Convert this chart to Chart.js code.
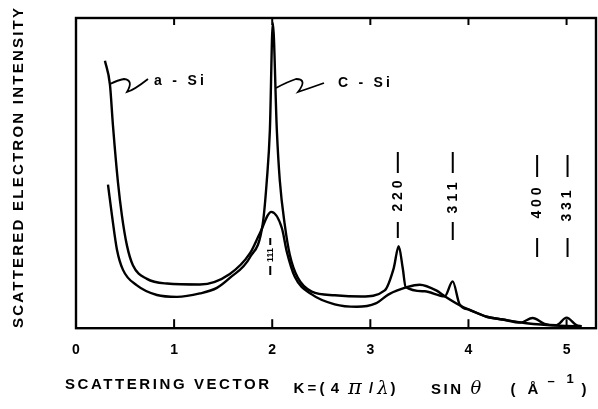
<!DOCTYPE html>
<html lang="en">
<head>
<meta charset="UTF-8">
<title>Scattered electron intensity</title>
<script src="https://cdn.jsdelivr.net/npm/chart.js"></script>
<style>
  html, body { margin: 0; padding: 0; background: #fff; }
</style>
</head>
<body>
<canvas id="chart" width="598" height="409"></canvas>
<script>
// values: K in 1/Angstrom, intensity in arbitrary units (0-100)
const aSiK = [0.295, 0.346, 0.377, 0.428, 0.468, 0.519, 0.58, 0.723, 0.927, 1.263, 1.568, 1.772, 1.874, 1.99, 2.098,
              2.149, 2.23, 2.403, 2.637, 2.861, 3.055, 3.187, 3.381, 3.503, 3.676, 3.758, 3.91, 4.012, 4.185, 4.348,
              4.593, 4.929, 5.153];
const aSiI = [86.2, 78.5, 65.2, 46.9, 36.3, 26.7, 20.3, 15.9, 14.4, 14.1, 17.5, 24.1, 30.6, 37.5, 32.3,
              24.6, 16.6, 10.9, 7.7, 6.9, 8.0, 10.9, 13.3, 14.0, 12.1, 10.3, 7.4, 5.9, 3.7, 2.8,
              1.6, 0.8, 0.6];
const cSiK = [0.326, 0.367, 0.417, 0.479, 0.621, 0.825, 1.029, 1.263, 1.436, 1.568, 1.772, 1.904, 1.945, 1.976, 2.006,
              2.047, 2.077, 2.128, 2.179, 2.26, 2.403, 2.637, 2.912, 3.147, 3.238, 3.289, 3.33, 3.36, 3.554, 3.758,
              3.839, 3.91, 4.012, 4.185, 4.348, 4.53, 4.654, 4.776, 4.898, 5.0, 5.10, 5.153];
const cSiI = [46.3, 36.3, 25.4, 18.8, 13.8, 10.7, 10.1, 11.2, 13.0, 16.2, 22.8, 33.8, 47.7, 63.8, 98.4,
              63.8, 47.7, 33.3, 23.7, 16.3, 11.8, 10.6, 10.2, 12.2, 19.3, 26.4, 19.4, 13.3, 11.9, 10.3,
              15.1, 7.7, 5.9, 3.7, 2.8, 1.8, 3.3, 1.4, 1.0, 3.4, 1.0, 0.6];
const kTicks = [0, 1, 2, 3, 4, 5];
const hklLabels = ['111', '220', '311', '400', '331'];
const hklK = [1.98, 3.28, 3.84, 4.70, 5.01];

const BOLD = '"Liberation Sans", Arial, sans-serif';

function pts(xs, ys) {
    return xs.map((k, i) => ({ x: k, y: ys[i] }));
}

// draw text stretched to a given width with letter spacing
function spaced(ctx, str, x, y, width, align) {
    ctx.letterSpacing = '0px';
    const w = ctx.measureText(str).width;
    const gap = str.length > 1 ? (width - w) / (str.length - 1) : 0;
    ctx.letterSpacing = gap + 'px';
    ctx.textAlign = 'left';
    const x0 = align === 'center' ? x - width / 2 : x;
    ctx.fillText(str, x0, y);
    ctx.letterSpacing = '0px';
}

function seg(ctx, x1, y1, x2, y2) {
    ctx.beginPath();
    ctx.moveTo(x1, y1);
    ctx.lineTo(x2, y2);
    ctx.stroke();
}

const figureText = {
    id: 'figureText',
    afterDraw(chart) {
        const { ctx, chartArea: a, scales: { x } } = chart;
        ctx.save();
        ctx.strokeStyle = '#000';
        ctx.fillStyle = '#000';
        ctx.lineWidth = 2.4;
        ctx.strokeRect(a.left, a.top, a.right - a.left, a.bottom - a.top);

        // inward tick marks, bottom and top
        ctx.lineWidth = 2;
        kTicks.forEach(k => {
            if (k <= x.min) return;
            const px = x.getPixelForValue(k);
            seg(ctx, px, a.bottom, px, a.bottom - 9);
            seg(ctx, px, a.top, px, a.top + 7);
        });

        ctx.textBaseline = 'middle';

        // y title
        ctx.save();
        ctx.translate(19, 168);
        ctx.rotate(-Math.PI / 2);
        ctx.font = 'bold 15px ' + BOLD;
        spaced(ctx, 'SCATTERED ELECTRON INTENSITY', 0, 0, 320, 'center');
        ctx.restore();

        // x title
        ctx.font = 'bold 15px ' + BOLD;
        spaced(ctx, 'SCATTERING VECTOR', 65, 385, 204, 'left');
        const parts = [
            ['K', 299, 389], ['=', 312, 389], ['(', 322, 389], ['4', 335, 389],
            ['/', 371, 389], [')', 393, 389], ['(', 513, 390], [')', 584, 390]
        ];
        ctx.textAlign = 'center';
        parts.forEach(p => ctx.fillText(p[0], p[1], p[2]));
        spaced(ctx, 'SIN', 446, 390, 30, 'center');
        spaced(ctx, 'Å', 533, 390, 11, 'center');
        ctx.font = 'bold 13px ' + BOLD;
        ctx.textAlign = 'center';
        ctx.fillText('\u2013', 551, 381);
        ctx.fillText('1', 570, 379);
        ctx.font = 'italic 21px "DejaVu Serif", serif';
        ctx.fillText('\u03c0', 355, 389);
        ctx.font = 'italic 18px "DejaVu Serif", serif';
        ctx.fillText('\u03bb', 383, 389);
        ctx.fillText('\u03b8', 476, 389);

        // Miller index labels
        const rows = {
            '111': { top: [238, 245], mid: 255, len: 14, bot: [266, 275], size: 9 },
            '220': { top: [152, 173], mid: 196, len: 31, bot: [222, 238], size: 14 },
            '311': { top: [152, 173], mid: 198, len: 31, bot: [222, 240], size: 14 },
            '400': { top: [155, 177], mid: 203, len: 31, bot: [238, 257], size: 14 },
            '331': { top: [155, 177], mid: 206, len: 31, bot: [238, 257], size: 14 }
        };
        ctx.lineWidth = 2;
        hklLabels.forEach((lab, i) => {
            const r = rows[lab];
            const px = x.getPixelForValue(hklK[i]);
            seg(ctx, px, r.top[0], px, r.top[1]);
            seg(ctx, px, r.bot[0], px, r.bot[1]);
            ctx.save();
            ctx.translate(px, r.mid);
            ctx.rotate(-Math.PI / 2);
            ctx.font = 'bold ' + r.size + 'px ' + BOLD;
            spaced(ctx, lab, 0, 0, r.len, 'center');
            ctx.restore();
        });

        // curve labels with squiggle leaders
        ctx.font = 'bold 14px ' + BOLD;
        spaced(ctx, 'a - Si', 154, 81, 50, 'left');
        spaced(ctx, 'C - Si', 338, 83, 52, 'left');
        ctx.lineWidth = 1.8;
        ctx.beginPath();
        ctx.moveTo(110, 84);
        ctx.quadraticCurveTo(118, 80, 124, 79);
        ctx.quadraticCurveTo(134, 80, 127, 92);
        ctx.quadraticCurveTo(134, 90, 148, 79);
        ctx.stroke();
        ctx.beginPath();
        ctx.moveTo(276, 88);
        ctx.quadraticCurveTo(287, 82, 296, 79);
        ctx.quadraticCurveTo(308, 79, 298, 92);
        ctx.quadraticCurveTo(310, 88, 324, 83);
        ctx.stroke();
        ctx.restore();
    }
};

const lineStyle = {
    borderColor: '#000',
    borderWidth: 2.4,
    pointRadius: 0,
    fill: false,
    cubicInterpolationMode: 'monotone'
};

new Chart(document.getElementById('chart').getContext('2d'), {
    type: 'line',
    data: {
        datasets: [
            Object.assign({ label: 'a - Si', data: pts(aSiK, aSiI) }, lineStyle),
            Object.assign({ label: 'C - Si', data: pts(cSiK, cSiI) }, lineStyle)
        ]
    },
    options: {
        responsive: false,
        animation: false,
        layout: { padding: { left: 76, right: 2, top: 18, bottom: 36 } },
        plugins: { legend: { display: false }, tooltip: { enabled: false } },
        scales: {
            x: {
                type: 'linear',
                min: 0,
                max: 5.3,
                afterBuildTicks: s => { s.ticks = kTicks.map(v => ({ value: v })); },
                grid: { display: false, drawTicks: false },
                border: { display: false },
                ticks: { color: '#000', padding: 14, maxRotation: 0, font: { family: BOLD, size: 14, weight: 'bold' } }
            },
            y: {
                display: false,
                min: 0,
                max: 100
            }
        }
    },
    plugins: [figureText]
});
</script>
</body>
</html>
